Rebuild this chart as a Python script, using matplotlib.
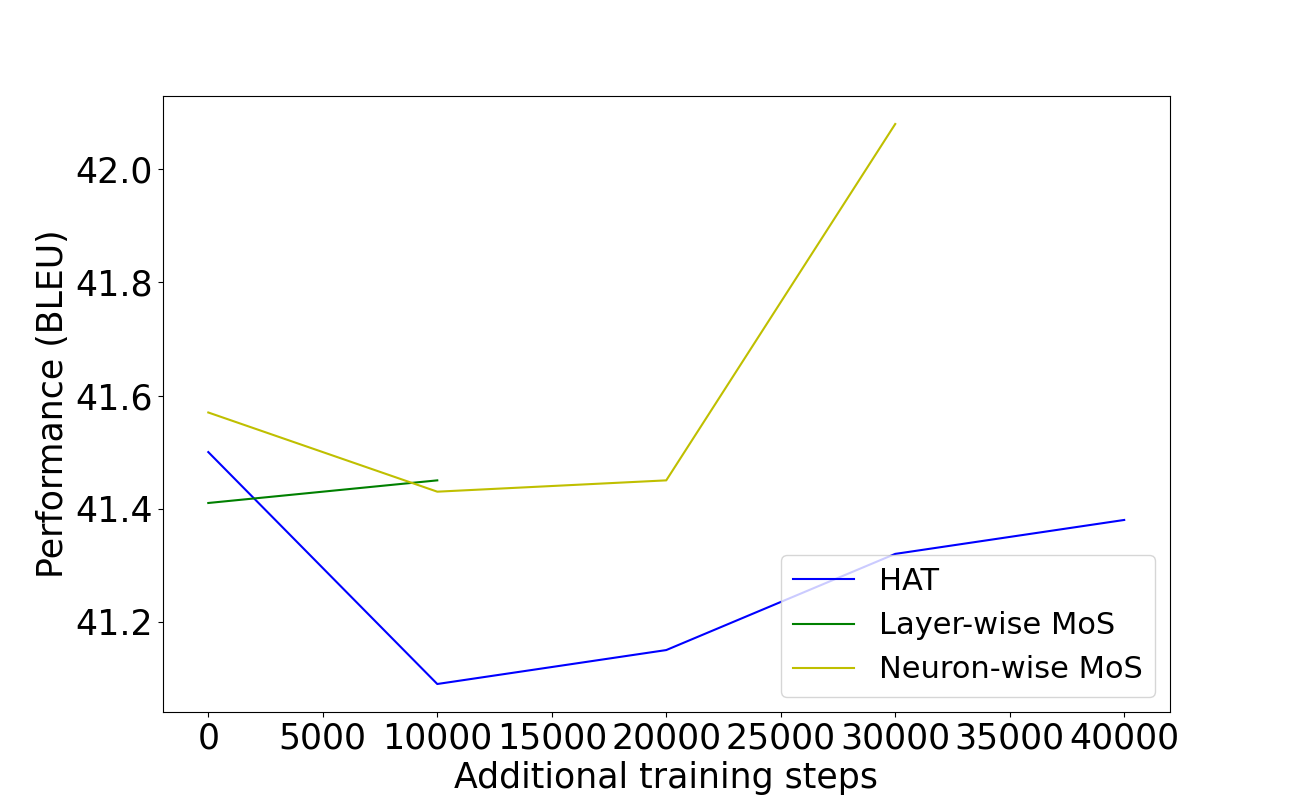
import matplotlib
matplotlib.use("Agg")
import matplotlib.pyplot as plt

hat_steps = [0, 10000, 20000, 30000, 40000]
hat_bleu = [41.50, 41.09, 41.15, 41.32, 41.38]

layer_steps = [0, 10000]
layer_bleu = [41.41, 41.45]

neuron_steps = [0, 10000, 20000, 30000]
neuron_bleu = [41.57, 41.43, 41.45, 42.08]

fig, ax = plt.subplots(figsize=(13, 8), dpi=100)

ax.plot(hat_steps, hat_bleu, color='b', label='HAT')
ax.plot(layer_steps, layer_bleu, color='g', label='Layer-wise MoS')
ax.plot(neuron_steps, neuron_bleu, color='y', label='Neuron-wise MoS')

ax.set_xlabel('Additional training steps', fontsize=25)
ax.set_ylabel('Performance (BLEU)', fontsize=25)
ax.tick_params(labelsize=25)
ax.legend(loc='lower right', fontsize=22)

fig.savefig('out.png')
